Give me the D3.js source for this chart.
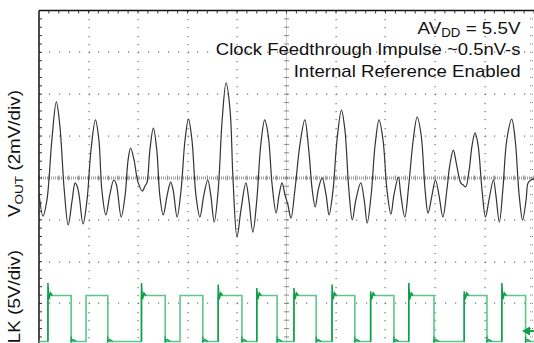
<!DOCTYPE html>
<html><head><meta charset="utf-8">
<script src="https://cdn.jsdelivr.net/npm/d3@7"></script>
<style>html,body{margin:0;padding:0;background:#fff;overflow:hidden}</style>
</head><body><svg id="c" width="534" height="343"></svg>
<script>
// ---- data (time in scope divisions, VOUT in mV, CLK in V) ----
const voutT = [0.00,0.08,0.16,0.26,0.35,0.42,0.51,0.59,0.67,0.73,0.77,0.81,0.89,0.97,1.05,1.14,1.21,1.27,1.35,1.43,1.51,1.56,1.66,1.74,1.80,1.85,1.92,2.00,2.09,2.14,2.18,2.24,2.31,2.38,2.44,2.51,2.59,2.66,2.71,2.79,2.87,2.95,3.02,3.09,3.17,3.25,3.33,3.41,3.47,3.54,3.62,3.70,3.78,3.86,3.92,4.00,4.08,4.18,4.24,4.32,4.40,4.48,4.56,4.63,4.71,4.79,4.85,4.91,4.97,5.03,5.09,5.17,5.27,5.37,5.45,5.52,5.58,5.64,5.72,5.80,5.86,5.94,6.02,6.11,6.18,6.26,6.33,6.40,6.50,6.57,6.63,6.71,6.79,6.87,6.95,7.03,7.11,7.17,7.26,7.31,7.39,7.47,7.56,7.64,7.72,7.80,7.86,7.94,8.01,8.08,8.16,8.24,8.30,8.37,8.43,8.52,8.57,8.62,8.69,8.75,8.81,8.87,8.95,9.02,9.09,9.18,9.23,9.30,9.37,9.45,9.55,9.62,9.70,9.77,9.84,9.88,9.94,10.00];
const voutMV = [-0.72,-1.82,-1.06,1.81,3.63,2.53,-0.58,-2.25,-1.06,-0.24,-0.39,-0.82,-2.20,-1.06,1.33,2.77,1.81,-0.58,-1.77,-0.82,-0.10,-0.29,-1.87,-0.82,0.86,1.43,0.86,-0.20,-0.63,-0.39,-0.24,1.33,2.38,1.33,-0.82,-1.77,-0.82,-0.20,-0.58,-1.87,-0.58,1.81,2.81,1.81,-0.82,-1.87,-0.82,-0.10,-0.82,-2.11,-0.58,2.77,4.54,3.24,-0.10,-2.82,-1.53,-0.24,-1.06,-2.59,-1.06,1.57,2.77,2.05,-0.34,-1.68,-0.82,-0.24,-0.82,-1.30,-1.92,-0.58,1.57,2.77,1.33,-0.58,-1.39,-0.58,0.00,-0.82,-1.77,-0.58,1.81,3.24,2.29,-0.58,-2.01,-1.06,-0.24,-1.06,-2.16,-0.82,1.57,2.77,1.81,-0.58,-1.73,-0.82,0.04,-0.82,-1.87,-0.34,1.81,2.91,2.05,-0.58,-1.68,-0.82,-0.10,-0.82,-1.87,-0.58,0.62,1.33,0.71,-0.24,-0.34,-0.43,0.38,1.57,2.15,1.57,-0.58,-1.87,-1.06,-0.10,-0.82,-2.11,-0.58,1.81,2.81,1.81,-0.82,-2.01,-1.06,-0.24,-0.10,-0.05];
const clkRise = [0.18,0.95,2.07,2.85,3.62,4.40,5.15,5.92,6.70,7.47,8.59,9.35];
const clkFall = [0.65,1.39,2.55,3.31,4.10,4.81,5.60,6.38,7.17,7.98,9.05,9.83];
const clkSpikeV = [7.0,null,7.0,null,6.8,6.4,6.4,6.8,6.0,7.0,6.0,7.0];
const clkLowV = 0, clkHighV = 5.5;
const clkMarkerV = 1.25;
const voutPerDiv = 2, clkPerDiv = 5, clkZeroDiv = -3.91;
const noteLines = ["Clock Feedthrough Impulse ~0.5nV-s", "Internal Reference Enabled"];

// ---- layout ----
const svg = d3.select("#c");
const padL = 39, padT = 10.5, dw = 49.5, dh = 41.85;
const x = d3.scaleLinear().domain([0, 10]).range([padL, padL + 10 * dw]);
const yDiv = d3.scaleLinear().domain([-4, 4]).range([padT + 8 * dh, padT]);
const yOut = v => yDiv(v / voutPerDiv);
const yClk = v => yDiv(clkZeroDiv + v / clkPerDiv);

const g = svg.append("g");
// grid dots
const dotCol = "#707070";
for (let d = 1; d <= 9; d++) {
  if (d === 5) continue;
  for (let k = 0; k <= 40; k++) {
    g.append("rect").attr("x", Math.round(x(d)) - 0.5).attr("y", Math.round(yDiv(-4 + k / 5)))
      .attr("width", 1.2).attr("height", 1.2).attr("fill", dotCol);
  }
}
for (let d = -3; d <= 3; d++) {
  if (d === 0) continue;
  for (let k = 0; k <= 50; k++) {
    g.append("rect").attr("x", Math.round(x(k / 5))).attr("y", Math.round(yDiv(d)) - 0.5)
      .attr("width", 1.2).attr("height", 1.2).attr("fill", dotCol);
  }
}
// center axes
g.append("line").attr("x1", x(0)).attr("x2", x(10)).attr("y1", yDiv(0)).attr("y2", yDiv(0))
  .attr("stroke", "#a0a0a0").attr("stroke-width", 3).attr("stroke-dasharray", "1,1");
for (let k = 0; k <= 50; k++) {
  g.append("line").attr("x1", x(k / 5)).attr("x2", x(k / 5)).attr("y1", yDiv(0) - 2.5).attr("y2", yDiv(0) + 2.5)
    .attr("stroke", "#888").attr("stroke-width", 1);
}
g.append("line").attr("x1", x(5)).attr("x2", x(5)).attr("y1", yDiv(4)).attr("y2", yDiv(-4))
  .attr("stroke", "#999").attr("stroke-width", 1).attr("stroke-dasharray", "1,1");
for (let k = 0; k <= 40; k++) {
  g.append("line").attr("x1", x(5) - 2.5).attr("x2", x(5) + 2.5).attr("y1", yDiv(-4 + k / 5)).attr("y2", yDiv(-4 + k / 5))
    .attr("stroke", "#888").attr("stroke-width", 1);
}
// right edge ticks
for (let k = 0; k <= 40; k++) {
  g.append("line").attr("x1", x(10) - 4).attr("x2", x(10)).attr("y1", yDiv(-4 + k / 5)).attr("y2", yDiv(-4 + k / 5))
    .attr("stroke", "#777").attr("stroke-width", 1).attr("stroke-dasharray", "1,1");
}
// borders (left, top) with ticks
g.append("line").attr("x1", padL).attr("x2", padL).attr("y1", padT).attr("y2", 343).attr("stroke", "#111").attr("stroke-width", 1.5);
g.append("line").attr("x1", padL).attr("x2", 534).attr("y1", padT).attr("y2", padT).attr("stroke", "#111").attr("stroke-width", 1.5);
for (let k = 1; k <= 40; k++) {
  g.append("line").attr("x1", padL).attr("x2", padL + 3).attr("y1", yDiv(4 - k / 5)).attr("y2", yDiv(4 - k / 5))
    .attr("stroke", "#333").attr("stroke-width", 1);
}
for (let k = 1; k <= 50; k++) {
  g.append("line").attr("x1", x(k / 5)).attr("x2", x(k / 5)).attr("y1", padT).attr("y2", padT + 3)
    .attr("stroke", "#333").attr("stroke-width", 1);
}

// ---- CLK trace ----
const events = clkRise.map((t, i) => ({t, v: clkHighV, spike: clkSpikeV[i]}))
  .concat(clkFall.map(t => ({t, v: clkLowV, spike: null})))
  .sort((a, b) => a.t - b.t);
let cur = clkLowV;
const clkPts = [[0, cur]];
events.forEach(e => { clkPts.push([e.t, cur]); clkPts.push([e.t, e.v]); cur = e.v; });
clkPts.push([10, cur]);
const lineClk = d3.line().x(d => x(d[0])).y(d => yClk(d[1]));
g.append("path").attr("d", lineClk(clkPts)).attr("fill", "none")
  .attr("stroke", "#5cc78b").attr("stroke-width", 1.6);
events.forEach(e => {
  if (e.spike == null) return;
  const p = [[e.t, clkLowV], [e.t, e.spike], [e.t + 0.02, clkHighV - 0.45], [e.t + 0.05, clkHighV + 0.3], [e.t + 0.09, clkHighV]];
  g.append("path").attr("d", lineClk(p)).attr("fill", "none").attr("stroke", "#0f9d48").attr("stroke-width", 1.5);
});
clkFall.forEach(t => {
  const p = [[t, clkLowV + 0.6], [t, clkLowV - 0.05], [t + 0.04, clkLowV + 0.25], [t + 0.1, clkLowV]];
  g.append("path").attr("d", lineClk(p)).attr("fill", "none").attr("stroke", "#0f9d48").attr("stroke-width", 1.2);
});
const my = yClk(clkMarkerV);
g.append("path").attr("d", `M${x(10) - 12},${my} L${x(10) - 4},${my - 4.5} L${x(10) - 4},${my + 4.5} Z`).attr("fill", "#0f9d48");
g.append("line").attr("x1", x(10) - 6).attr("x2", x(10)).attr("y1", my).attr("y2", my).attr("stroke", "#0f9d48").attr("stroke-width", 2);

// ---- VOUT trace ----
const lineOut = d3.line().x((d, i) => x(voutT[i])).y((d, i) => yOut(voutMV[i])).curve(d3.curveCatmullRom.alpha(0.5));
g.append("path").attr("d", lineOut(voutT)).attr("fill", "none")
  .attr("stroke", "#333").attr("stroke-width", 1.2);

// ---- text (stretched horizontally to match the original's wide lettering) ----
const font = "'Liberation Sans', Arial, Helvetica, sans-serif";
function fitText(sel, target) {
  const w = sel.node().getComputedTextLength();
  return target / w;
}
const tx = 520.5;
// line 1
const g1 = svg.append("g");
const t1 = g1.append("text").attr("text-anchor", "end").attr("font-family", font).attr("font-size", 17).attr("fill", "#111");
t1.append("tspan").text("AV");
t1.append("tspan").attr("font-size", 12).attr("dy", 3).text("DD");
t1.append("tspan").attr("dy", -3).text(" = 5.5V");
g1.attr("transform", `translate(${tx},33.5) scale(${fitText(t1, 103)},1)`);
const noteW = [305, 227];
noteLines.forEach((s, i) => {
  const gi = svg.append("g");
  const ti = gi.append("text").attr("text-anchor", "end").attr("font-family", font).attr("font-size", 17).attr("fill", "#111").text(s);
  gi.attr("transform", `translate(${tx},${55.2 + i * 21.7}) scale(${fitText(ti, noteW[i])},1)`);
});
// y labels
const gy1 = svg.append("g");
const yl1 = gy1.append("text").attr("font-family", font).attr("font-size", 16).attr("fill", "#111");
yl1.append("tspan").text("V");
yl1.append("tspan").attr("font-size", 11.5).attr("dy", 3).text("OUT");
yl1.append("tspan").attr("dy", -3).text(" (2mV/div)");
const sy = fitText(yl1, 127);
gy1.attr("transform", `translate(19.5,217) rotate(-90) scale(${sy},1)`);
const gy2 = svg.append("g");
gy2.append("text").attr("text-anchor", "end").attr("font-family", font).attr("font-size", 16).attr("fill", "#111").text("CLK (5V/div)");
gy2.attr("transform", `translate(19.5,250) rotate(-90) scale(${sy},1)`);
</script></body></html>
